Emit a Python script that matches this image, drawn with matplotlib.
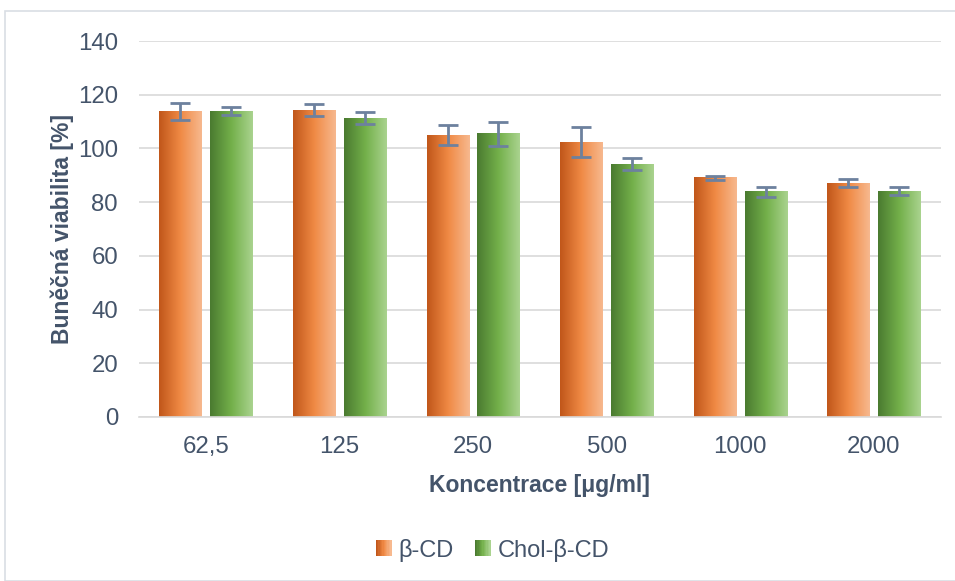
import numpy as np
import matplotlib.pyplot as plt
from matplotlib.colors import LinearSegmentedColormap
from matplotlib.patches import Rectangle
from matplotlib.legend_handler import HandlerBase

plt.rcParams['font.family'] = ['Liberation Sans', 'DejaVu Sans']

# data
concentrations = ['62,5', '125', '250', '500', '1000', '2000']
beta_cd = [113.9, 114.3, 105.0, 102.4, 89.0, 87.1]
beta_cd_err = [3.2, 2.4, 3.9, 5.5, 0.9, 1.6]
chol_beta_cd = [113.9, 111.3, 105.4, 94.2, 83.8, 84.1]
chol_beta_cd_err = [1.6, 2.2, 4.6, 2.2, 1.9, 1.4]
series_names = ['β-CD', 'Chol-β-CD']

text_col = '#44546A'
err_col = '#6D819E'
grid_col = '#D9D9D9'

orange_cmap = LinearSegmentedColormap.from_list('orange', ['#C0561A', '#F08A45', '#F7B98F'])
green_cmap = LinearSegmentedColormap.from_list('green', ['#4A7A30', '#73B04A', '#AAD38F'])
grad = np.linspace(0, 1, 256).reshape(1, -1)


def gradient_bar(ax, x, h, w, cmap):
    ax.imshow(grad, cmap=cmap, extent=[x - w / 2, x + w / 2, 0, h],
              aspect='auto', interpolation='bilinear', zorder=2)


class GradientHandler(HandlerBase):
    def __init__(self, cmap):
        super().__init__()
        self.cmap = cmap

    def create_artists(self, legend, orig_handle, xdescent, ydescent,
                       width, height, fontsize, trans):
        side = height * 0.95
        x0 = -xdescent + width - side
        y0 = -ydescent + (height - side) / 2
        n = 12
        arts = []
        for i in range(n):
            arts.append(Rectangle((x0 + side * i / n, y0), side / n + 0.3, side,
                                  facecolor=self.cmap(i / (n - 1)), edgecolor='none',
                                  transform=trans))
        return arts


fig = plt.figure(figsize=(9.55, 5.81), dpi=100)
ax = fig.add_axes([0.1455, 0.2823, 0.8395, 0.6471])

# outer frame
fig.patches.append(Rectangle((5 / 955, 0), 1, 1 - 11 / 581, transform=fig.transFigure,
                             facecolor='none', edgecolor='#D9DEE4', linewidth=1.2))

x = np.arange(len(concentrations))
w = 0.315
off = 0.19
for i in range(len(x)):
    gradient_bar(ax, x[i] - off, beta_cd[i], w, orange_cmap)
    gradient_bar(ax, x[i] + off, chol_beta_cd[i], w, green_cmap)

ax.errorbar(x - off, beta_cd, yerr=beta_cd_err, fmt='none', ecolor=err_col,
            elinewidth=2, capsize=7, capthick=2, zorder=3)
ax.errorbar(x + off, chol_beta_cd, yerr=chol_beta_cd_err, fmt='none', ecolor=err_col,
            elinewidth=2, capsize=7, capthick=2, zorder=3)

ax.set_xlim(-0.5, len(x) - 0.5)
ax.set_ylim(0, 140)
ax.set_yticks(range(0, 141, 20))
ax.set_xticks(x)
ax.set_xticklabels(concentrations)
ax.yaxis.grid(True, color=grid_col, linewidth=1.2, zorder=0)
ax.set_axisbelow(True)
for s in ['top', 'right', 'left']:
    ax.spines[s].set_visible(False)
ax.spines['bottom'].set_color(grid_col)
ax.spines['bottom'].set_linewidth(1.2)
ax.tick_params(axis='both', length=0, labelsize=17.3, labelcolor=text_col)
ax.tick_params(axis='y', pad=15)
ax.tick_params(axis='x', pad=14)

ax.set_ylabel('Buněčná viabilita [%]', fontsize=16.5, fontweight='bold', color=text_col, labelpad=3)
ax.set_xlabel('Koncentrace [μg/ml]', fontsize=16.5, fontweight='bold', color=text_col, labelpad=11)

h1 = Rectangle((0, 0), 1, 1)
h2 = Rectangle((0, 0), 1, 1)
fig.legend([h1, h2], series_names, loc='center', bbox_to_anchor=(0.517, 1 - 550 / 581),
           ncol=2, frameon=False, fontsize=17, labelcolor=text_col,
           handlelength=0.55, handletextpad=0.3, columnspacing=1.0,
           handler_map={h1: GradientHandler(orange_cmap), h2: GradientHandler(green_cmap)})

fig.savefig('out.png', dpi=100)
